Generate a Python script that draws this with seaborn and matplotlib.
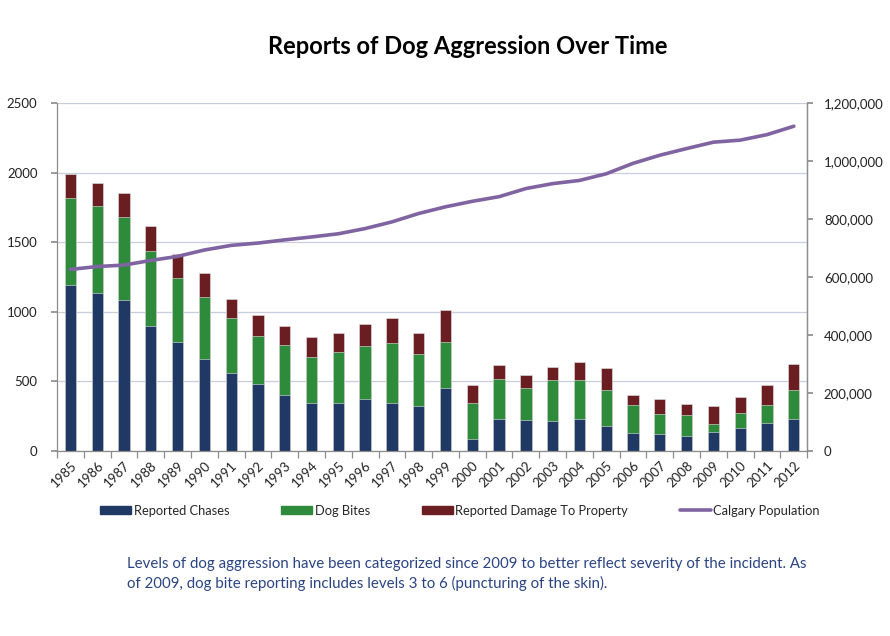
import matplotlib
matplotlib.use("Agg")
import matplotlib.pyplot as plt
import matplotlib.ticker as mticker
from matplotlib.patches import Patch
from matplotlib.lines import Line2D
import numpy as np
import pandas as pd
import seaborn as sns

years = [str(y) for y in range(1985, 2013)]
chases = [1193, 1137, 1087, 900, 785, 663, 563, 484, 405, 347, 347, 371, 347, 325,
          455, 88, 232, 225, 218, 232, 182, 132, 124, 110, 136, 168, 204, 232]
bites = [627, 621, 594, 539, 460, 443, 395, 342, 356, 326, 366, 383, 429, 372,
         328, 255, 285, 228, 290, 276, 254, 196, 139, 146, 58, 107, 124, 204]
damage = [168, 167, 170, 177, 168, 170, 132, 149, 135, 146, 135, 156, 177, 151,
          228, 131, 101, 93, 98, 129, 160, 74, 111, 82, 132, 111, 146, 191]
population = [626000, 636000, 641000, 657000, 671000, 693000, 709000, 717000, 728000,
              738000, 749000, 767000, 790000, 819000, 842000, 861000, 877000, 905000,
              922000, 933000, 956000, 992000, 1020000, 1043000, 1065000, 1072000,
              1091000, 1120000]

labels = ["Reported Chases", "Dog Bites", "Reported Damage To Property", "Calgary Population"]
title = "Reports of Dog Aggression Over Time"
note = ("Levels of dog aggression have been categorized since 2009 to better reflect severity of the incident. As\n"
        "of 2009, dog bite reporting includes levels 3 to 6 (puncturing of the skin).")

c_chase = "#1F3864"
c_bite = "#2E8B3C"
c_damage = "#6B1E22"
c_line = "#8064A2"

df = pd.DataFrame({"year": years, "chases": chases, "bites": bites, "damage": damage,
                   "population": population})
df["cb"] = df["chases"] + df["bites"]
df["total"] = df["cb"] + df["damage"]

sns.set_theme(style="white")
plt.rcParams["font.family"] = ["Lato", "DejaVu Sans"]

fig = plt.figure(figsize=(8.9, 6.36), dpi=100)
ax = fig.add_axes([0.064, 0.291, 0.843, 0.547])

bw = 0.42
for col, c in [("total", c_damage), ("cb", c_bite), ("chases", c_chase)]:
    sns.barplot(data=df, x="year", y=col, color=c, width=bw, ax=ax, saturation=1,
                edgecolor="#E6E6E6", linewidth=0.4)

ax.set_xlim(-0.5, len(years) - 0.5)
ax.set_ylim(0, 2500)
ax.set_yticks(range(0, 2501, 500))
ax.set_xlabel("")
ax.set_ylabel("")
ax.grid(axis="y", color="#C9CEDF", linewidth=0.9)
ax.set_axisbelow(True)

ax.spines["top"].set_visible(False)
for s in ["left", "bottom", "right"]:
    ax.spines[s].set_color("#8C8C8C")
    ax.spines[s].set_linewidth(0.9)

ax.tick_params(axis="y", which="major", left=True, length=4, color="#8C8C8C",
               labelsize=9.5, pad=10, labelcolor="#222222")
ax.set_xticks(range(len(years)))
ax.set_xticklabels(years, rotation=45, ha="right", rotation_mode="anchor",
                   fontsize=9.5, color="#222222")
ax.tick_params(axis="x", which="major", bottom=False, length=0, pad=6)
ax.set_xticks(np.arange(-0.5, len(years), 1.0), minor=True)
ax.tick_params(axis="x", which="minor", bottom=True, length=5, color="#8C8C8C", width=0.9)

ax2 = ax.twinx()
sns.lineplot(x=np.arange(len(years)), y=df["population"], color=c_line, linewidth=2.6,
             ax=ax2)
ax2.set_ylim(0, 1200000)
ax2.set_yticks(range(0, 1200001, 200000))
ax2.yaxis.set_major_formatter(mticker.FuncFormatter(lambda v, p: f"{int(v):,}"))
ax2.set_ylabel("")
ax2.tick_params(axis="y", right=True, length=4, color="#8C8C8C", labelsize=9.5,
                pad=8, labelcolor="#222222")
for s in ["top", "left", "bottom"]:
    ax2.spines[s].set_visible(False)
ax2.spines["right"].set_color("#8C8C8C")
ax2.spines["right"].set_linewidth(0.9)
ax2.grid(False)

fig.text(0.526, 0.927, title, ha="center", va="center", fontsize=17, fontweight="bold",
         color="#000000")

handles = [Patch(color=c_chase), Patch(color=c_bite), Patch(color=c_damage),
           Line2D([], [], color=c_line, linewidth=2.6)]
fig.legend(handles, labels, loc="center", bbox_to_anchor=(0.517, 0.197), ncol=4,
           frameon=False, fontsize=9.3, handlelength=2.4, handleheight=0.6,
           handletextpad=0.2, columnspacing=4.0)

fig.text(0.143, 0.098, note, ha="left", va="center", fontsize=10.8, color="#2A4483",
         linespacing=1.4)

fig.savefig("out.png", dpi=100)
